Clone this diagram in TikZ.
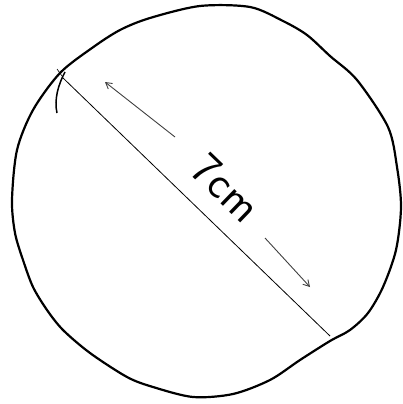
\documentclass[tikz,border=0pt]{standalone}
\usetikzlibrary{arrows.meta}
\begin{document}
\begin{tikzpicture}[x=1pt,y=-1pt,
  rim/.style={line width=2.2pt,line join=round},
  diam/.style={line width=0.8pt},
  dimarrow/.style={line width=0.9pt,black!75,-{Straight Barb[length=6pt,width=7pt]}},
  lbl/.style={font=\sffamily\fontsize{46}{46}\selectfont,rotate=-44,inner sep=0pt}]
\useasboundingbox (0,0) rectangle (403,404);
\draw[rim] plot[smooth cycle,tension=0.5] coordinates {
 (200,6) (250,7) (283,21) (307,35) (330,56) (357,80) (388,127) (397,167)
 (401,207) (396,250) (383,287) (368,313) (350,330) (330,341) (300,360)
 (270,380) (233,394) (193,397) (153,387) (127,377) (90,353) (63,330)
 (47,310) (33,287) (23,260) (15,233) (12,200) (17,150) (33,110) (60,73)
 (92,48) (120,30) (150,18)};
\draw[line width=1.5pt] (65,72) .. controls (58,85) and (54,100) .. (57,113);
\draw[line width=0.6pt] (57,69) -- (62,76);
\coordinate (dA) at (62,77);
\coordinate (dB) at (330,336);
\draw[diam] (dA) -- (dB);
\coordinate (a1s) at (175,137);
\coordinate (a1e) at (105,82);
\coordinate (a2s) at (265,238);
\coordinate (a2e) at (310,287);
\draw[dimarrow] (a1s) -- (a1e);
\draw[dimarrow] (a2s) -- (a2e);
\node[lbl] (len) at (226,188) {7cm};
\end{tikzpicture}
\end{document}
